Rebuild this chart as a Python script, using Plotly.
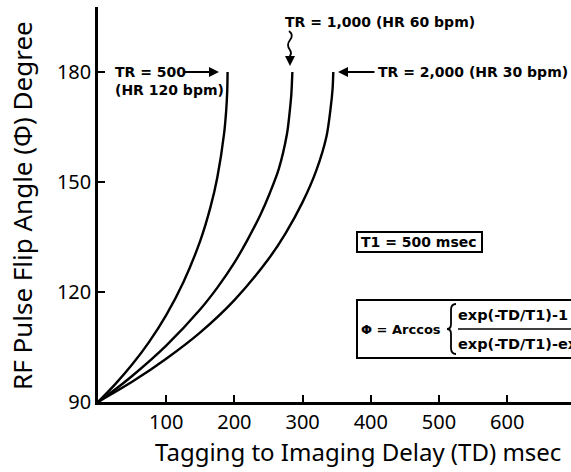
import plotly.graph_objects as go

# Data
td_tr500 = [0, 25, 50, 75, 100, 125, 150, 165, 175, 185, 188, 189.5, 190]
phi_tr500 = [90, 94.8, 100.2, 106.4, 113.7, 122.6, 134.0, 143.2, 151.3, 163.4, 169.6, 174.8, 180]

td_tr1000 = [0, 25, 50, 100, 150, 175, 200, 220, 238, 252, 265, 277, 281, 283.5, 285]
phi_tr1000 = [90, 93.4, 97.1, 105.4, 115.3, 121.2, 128.0, 134.5, 141.0, 147.0, 153.5, 163.0, 169.0, 174.0, 180]

td_tr2000 = [0, 50, 100, 150, 200, 250, 275, 300, 320, 335, 341, 344, 345]
phi_tr2000 = [90, 95.5, 101.8, 109.0, 117.8, 129.0, 136.0, 144.5, 153.1, 162.4, 170.0, 175.5, 180]

x_ticks = [100, 200, 300, 400, 500, 600]
y_ticks = [90, 120, 150, 180]

W, H = 571, 472
L, R, T, B = 98, 0, 7, 70
PW, PH = W - L - R, H - T - B


def px(x):
    return (x - L) / PW


def py(y):
    return (H - B - y) / PH


fig = go.Figure()
for xs, ys in [(td_tr500, phi_tr500), (td_tr1000, phi_tr1000), (td_tr2000, phi_tr2000)]:
    fig.add_trace(go.Scatter(x=xs, y=ys, mode="lines",
                             line=dict(color="black", width=2.4, shape="spline", smoothing=0.8),
                             showlegend=False, hoverinfo="skip"))

tick_font = dict(family="Noto Sans", size=20, color="black")
lab_font = dict(family="DejaVu Sans", size=14, color="black")
frm_font = dict(family="DejaVu Sans", size=13, color="black")
num_font = dict(family="DejaVu Sans", size=14.5, color="black")

fig.update_layout(
    width=W, height=H,
    margin=dict(l=L, r=R, t=T, b=B),
    paper_bgcolor="white", plot_bgcolor="white",
    xaxis=dict(range=[0, PW / 0.682], showgrid=False, zeroline=False,
               showline=True, linecolor="black", linewidth=2.5,
               ticks="inside", ticklen=7, tickwidth=2, tickcolor="black",
               tickvals=x_ticks, ticktext=[str(v) for v in x_ticks],
               tickfont=tick_font),
    yaxis=dict(range=[90, 90 + PH / 3.667], showgrid=False, zeroline=False,
               showline=True, linecolor="black", linewidth=2.5,
               ticks="inside", ticklen=7, tickwidth=2, tickcolor="black",
               tickvals=y_ticks, ticktext=[str(v) for v in y_ticks],
               tickfont=tick_font),
)

ann = []
# axis titles
ann.append(dict(text="Tagging to Imaging Delay (TD) msec", xref="paper", yref="paper",
                x=px(358), y=py(451), xanchor="center", yanchor="middle", showarrow=False,
                font=dict(family="Noto Sans", size=24, color="black")))
ann.append(dict(text="RF Pulse Flip Angle (Φ) Degree", xref="paper", yref="paper",
                x=px(22), y=py(206), xanchor="center", yanchor="middle", showarrow=False,
                textangle=-90, font=dict(family="Noto Sans", size=26, color="black")))
# curve labels
ann.append(dict(text="<b>TR = 500</b>", xref="paper", yref="paper", x=px(113), y=py(72),
                xanchor="left", yanchor="middle", showarrow=False, font=lab_font))
ann.append(dict(text="<b>(HR 120 bpm)</b>", xref="paper", yref="paper", x=px(113), y=py(90),
                xanchor="left", yanchor="middle", showarrow=False, font=lab_font))
ann.append(dict(text="", xref="paper", yref="paper", x=px(219), y=py(72), ax=-36, ay=0,
                showarrow=True, arrowhead=2, arrowsize=1, arrowwidth=2, arrowcolor="black"))
ann.append(dict(text="<b>TR = 1,000 (HR 60 bpm)</b>", xref="paper", yref="paper", x=px(283), y=py(22),
                xanchor="left", yanchor="middle", showarrow=False, font=lab_font))
ann.append(dict(text="", xref="paper", yref="paper", x=px(290), y=py(66), ax=0, ay=-12,
                showarrow=True, arrowhead=2, arrowsize=1, arrowwidth=2, arrowcolor="black"))
ann.append(dict(text="<b>TR = 2,000 (HR 30 bpm)</b>", xref="paper", yref="paper", x=px(376), y=py(72),
                xanchor="left", yanchor="middle", showarrow=False, font=lab_font))
ann.append(dict(text="", xref="paper", yref="paper", x=px(338), y=py(72), ax=38, ay=0,
                showarrow=True, arrowhead=2, arrowsize=1, arrowwidth=2, arrowcolor="black"))
# T1 box
ann.append(dict(text="<b>T1 = 500 msec</b>", xref="paper", yref="paper", x=px(419), y=py(242),
                xanchor="center", yanchor="middle", showarrow=False, font=lab_font))
# formula
ann.append(dict(text="<b>Φ = Arccos</b>", xref="paper", yref="paper", x=px(359), y=py(329),
                xanchor="left", yanchor="middle", showarrow=False, font=frm_font))
ann.append(dict(text="<b>exp(-TD/T1)-1</b>", xref="paper", yref="paper", x=px(456), y=py(315),
                xanchor="left", yanchor="middle", showarrow=False, font=num_font))
ann.append(dict(text="<b>exp(-TD/T1)-exp(-TR/T1)</b>", xref="paper", yref="paper", x=px(456), y=py(344),
                xanchor="left", yanchor="middle", showarrow=False, font=num_font))
fig.update_layout(annotations=ann)


def to_path(pts):
    out = []
    for p in pts:
        cmd = p[0]
        coords = p[1:]
        s = []
        for i in range(0, len(coords), 2):
            s.append(f"{px(coords[i]):.5f},{py(coords[i+1]):.5f}")
        out.append(cmd + " " + " ".join(s))
    return " ".join(out)


brace = [("M", 456, 304), ("Q", 451, 304, 451, 310), ("L", 451, 324),
         ("Q", 451, 329, 447, 329), ("Q", 451, 329, 451, 334), ("L", 451, 348),
         ("Q", 451, 354, 456, 354)]
squiggle = [("M", 289, 31), ("Q", 294, 35, 290, 40), ("Q", 286, 45, 290, 50), ("Q", 292, 53, 290, 56)]

shapes = [
    dict(type="rect", xref="paper", yref="paper", x0=px(357), x1=px(482), y0=py(232), y1=py(252),
         line=dict(color="black", width=2)),
    dict(type="rect", xref="paper", yref="paper", x0=px(357), x1=px(640), y0=py(300), y1=py(358),
         line=dict(color="black", width=2)),
    dict(type="line", xref="paper", yref="paper", x0=px(458), x1=px(640), y0=py(329), y1=py(329),
         line=dict(color="black", width=1.5)),
    dict(type="path", xref="paper", yref="paper", path=to_path(brace),
         line=dict(color="black", width=1.8)),
    dict(type="path", xref="paper", yref="paper", path=to_path(squiggle),
         line=dict(color="black", width=1.8)),
]
fig.update_layout(shapes=shapes)

fig.write_html("out.html", config={"displayModeBar": False},
               post_script="document.body.style.margin='0px';")
